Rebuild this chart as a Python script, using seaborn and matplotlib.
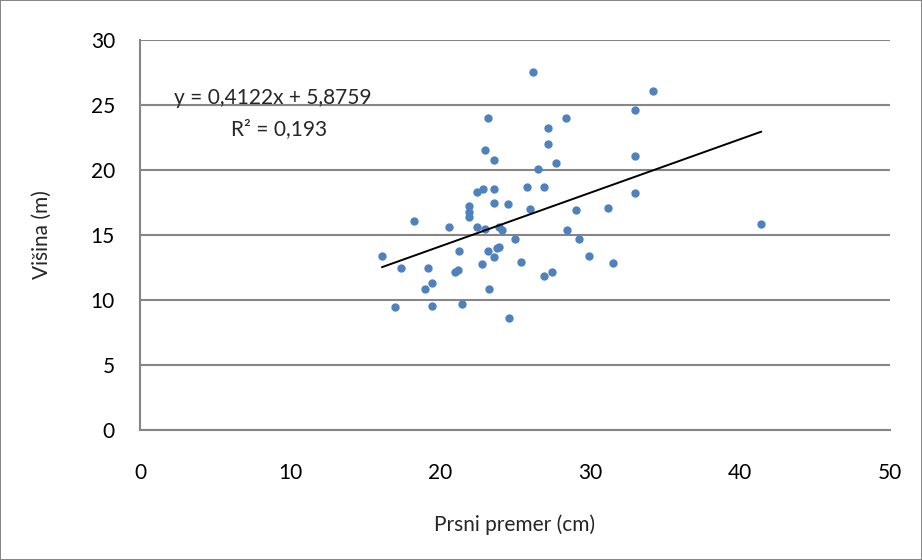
import numpy as np
import pandas as pd
import matplotlib
matplotlib.use("Agg")
import matplotlib.pyplot as plt
import seaborn as sns

# --- DATA ---
prsni_premer = [26.18, 34.22, 33.0, 23.22, 28.38, 27.22, 27.22, 22.98, 23.62, 33.0,
                27.73, 26.51, 22.44, 22.84, 23.62, 25.8, 26.95, 33.0, 23.62, 24.51,
                25.98, 29.07, 31.18, 21.93, 21.93, 21.93, 18.27, 20.58, 22.44, 22.98,
                23.96, 24.16, 28.49, 25.02, 29.27, 16.13, 21.29, 23.22, 23.96, 23.78,
                23.6, 29.91, 31.51, 25.4, 22.78, 17.42, 19.22, 21.18, 20.98, 27.47,
                26.95, 19.49, 18.98, 23.29, 16.98, 19.49, 21.49, 24.58, 41.42]
visina = [27.56, 26.10, 24.6, 24.02, 24.02, 23.2, 22.0, 21.5, 20.77, 21.08,
          20.54, 20.05, 18.33, 18.56, 18.56, 18.69, 18.69, 18.26, 17.44, 17.36,
          17.0, 16.92, 17.08, 17.23, 16.77, 16.36, 16.1, 15.59, 15.59, 15.44,
          15.59, 15.38, 15.36, 14.67, 14.67, 13.36, 13.79, 13.79, 14.1, 14.03,
          13.28, 13.36, 12.82, 12.92, 12.77, 12.46, 12.46, 12.31, 12.15, 12.15,
          11.87, 11.28, 10.85, 10.85, 9.44, 9.51, 9.72, 8.62, 15.87]

# trendline as given in the chart
slope = 0.4122
intercept = 5.8759
r_squared = 0.193

x_ticks = [0, 10, 20, 30, 40, 50]
y_ticks = [0, 5, 10, 15, 20, 25, 30]

df = pd.DataFrame({"premer": prsni_premer, "visina": visina})

sns.set_style("white")
plt.rcParams['font.family'] = ['Lato', 'DejaVu Sans']

GRID = '#868686'
BLUE = '#4F81BD'
FS = 15

fig = plt.figure(figsize=(9.22, 5.6), dpi=100, edgecolor=GRID, linewidth=1.2)
ax = fig.add_axes([0.1518, 0.2321, 0.8135, 0.6965])

sns.scatterplot(data=df, x="premer", y="visina", color=BLUE, s=36,
                edgecolor=BLUE, linewidth=0, ax=ax, zorder=3)

# linear trendline over the data range
line_x = np.array([df["premer"].min(), df["premer"].max()])
line_df = pd.DataFrame({"x": line_x, "y": slope * line_x + intercept})
sns.lineplot(data=line_df, x="x", y="y", color="black", linewidth=1.4, ax=ax, zorder=4)

ax.set_xlim(0, 50)
ax.set_ylim(0, 30)
ax.set_xticks(x_ticks)
ax.set_yticks(y_ticks)
ax.tick_params(axis='both', length=0, labelsize=FS, colors='black')
ax.tick_params(axis='x', pad=24)
ax.tick_params(axis='y', pad=18)

ax.yaxis.grid(True, color=GRID, linewidth=1.5)
ax.xaxis.grid(False)
ax.set_axisbelow(True)
for side in ['top', 'right']:
    ax.spines[side].set_visible(False)
for side in ['left', 'bottom']:
    ax.spines[side].set_color(GRID)
    ax.spines[side].set_linewidth(1.5)

ax.set_xlabel("Prsni premer (cm)", fontsize=FS, labelpad=22)
ax.set_ylabel("Višina (m)", fontsize=FS, labelpad=28)

eq_text = f"y = {slope:.4f}x + {intercept:.4f}".replace('.', ',')
r_text = f"R² = {r_squared:.3f}".replace('.', ',')
ax.text(2.3, 25.05, eq_text, fontsize=FS, ha='left', va='baseline')
ax.text(6.1, 22.7, r_text, fontsize=FS, ha='left', va='baseline')

fig.savefig("out.png", dpi=100, edgecolor=fig.get_edgecolor())
